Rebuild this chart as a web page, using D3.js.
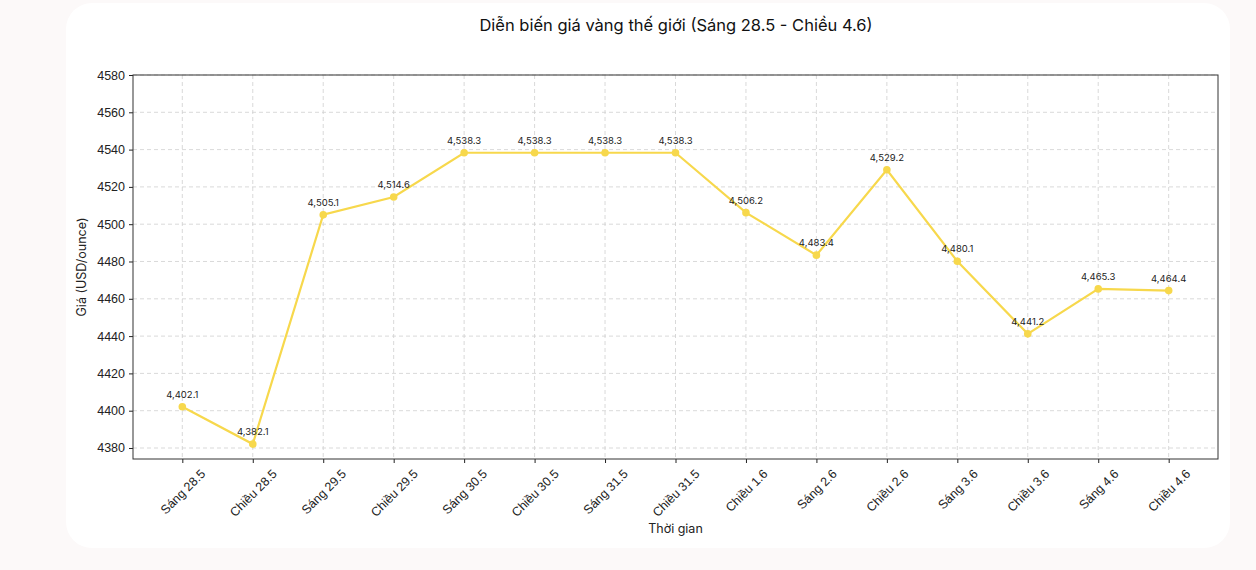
<!DOCTYPE html>
<html>
<head>
<meta charset="UTF-8">
<style>
body { margin: 0; background: #fcf9f9; }
svg { display: block; font-family: Inter, "Open Sans", sans-serif; }
.grid line { stroke: #cfcfcf; stroke-dasharray: 4,3; stroke-width: 0.8; }
.axis path { display: none; }
.axis line { stroke: #222; }
.axis text { fill: #222; font-size: 12.5px; }
.lbl { font-size: 9.5px; fill: #222; }
</style>
</head>
<body>
<svg width="1256" height="570"></svg>
<script src="https://cdn.jsdelivr.net/npm/d3@7"></script>
<script>
// dữ liệu
var labels = ["Sáng 28.5", "Chiều 28.5", "Sáng 29.5", "Chiều 29.5", "Sáng 30.5", "Chiều 30.5",
  "Sáng 31.5", "Chiều 31.5", "Chiều 1.6", "Sáng 2.6", "Chiều 2.6", "Sáng 3.6",
  "Chiều 3.6", "Sáng 4.6", "Chiều 4.6"];
var prices = [4402.1, 4382.1, 4505.1, 4514.6, 4538.3, 4538.3, 4538.3, 4538.3,
  4506.2, 4483.4, 4529.2, 4480.1, 4441.2, 4465.3, 4464.4];
var yTicks = [4380, 4400, 4420, 4440, 4460, 4480, 4500, 4520, 4540, 4560, 4580];

var svg = d3.select("svg"),
    margin = {top: 75, right: 38, bottom: 111, left: 133},
    width = 1256 - margin.left - margin.right,
    height = 570 - margin.top - margin.bottom;

// card
svg.append("rect")
    .attr("x", 66).attr("y", 3)
    .attr("width", 1164).attr("height", 545)
    .attr("rx", 26).attr("fill", "#fff");

svg.append("text")
    .attr("x", 676).attr("y", 31)
    .attr("text-anchor", "middle")
    .style("font-size", "16.5px")
    .attr("fill", "#111")
    .text("Diễn biến giá vàng thế giới (Sáng 28.5 - Chiều 4.6)");

var g = svg.append("g").attr("transform", "translate(" + margin.left + "," + margin.top + ")");

var x = d3.scaleLinear().domain([-0.7, labels.length - 1 + 0.7]).range([0, width]);
var y = d3.scaleLinear().domain([4374.1, 4580]).range([height, 0]);

// grid
g.append("g").attr("class", "grid")
  .selectAll("line").data(yTicks).enter().append("line")
    .attr("x1", 0).attr("x2", width)
    .attr("y1", function(d) { return y(d); }).attr("y2", function(d) { return y(d); });
g.append("g").attr("class", "grid")
  .selectAll("line").data(labels).enter().append("line")
    .attr("y1", 0).attr("y2", height)
    .attr("x1", function(d, i) { return x(i); }).attr("x2", function(d, i) { return x(i); });

g.append("g")
    .attr("class", "axis")
    .call(d3.axisLeft(y).tickValues(yTicks).tickSize(4).tickPadding(4).tickFormat(d3.format("d")));

var xa = g.append("g")
    .attr("class", "axis")
    .attr("transform", "translate(0," + height + ")")
    .call(d3.axisBottom(x).tickValues(d3.range(labels.length)).tickSize(4)
      .tickFormat(function(i) { return labels[i]; }));
// rotated 45°, centred under the tick like matplotlib
xa.selectAll("text")
    .attr("text-anchor", "middle")
    .attr("dy", "0.35em")
    .attr("x", 0).attr("y", 0)
    .attr("transform", function() {
      var w = this.getComputedTextLength(), h = 13;
      var cy = 8 + (w + h) * Math.SQRT1_2 / 2;
      return "translate(0," + cy + ") rotate(-45)";
    });

// frame
g.append("rect")
    .attr("width", width).attr("height", height)
    .attr("fill", "none").attr("stroke", "#333").attr("stroke-width", 1);

var line = d3.line()
    .x(function(d, i) { return x(i); })
    .y(function(d) { return y(d); });

g.append("path")
    .datum(prices)
    .attr("d", line)
    .attr("fill", "none")
    .attr("stroke", "#f7d84c")
    .attr("stroke-width", 2.2);

g.selectAll(".dot").data(prices).enter().append("circle")
    .attr("cx", function(d, i) { return x(i); })
    .attr("cy", function(d) { return y(d); })
    .attr("r", 3.8)
    .attr("fill", "#f7d84c");

g.selectAll(".lbl").data(prices).enter().append("text")
    .attr("class", "lbl")
    .attr("x", function(d, i) { return x(i); })
    .attr("y", function(d) { return y(d) - 9; })
    .attr("text-anchor", "middle")
    .text(function(d) { return d3.format(",.1f")(d); });

svg.append("text")
    .attr("transform", "translate(86," + (margin.top + height / 2) + ") rotate(-90)")
    .attr("text-anchor", "middle")
    .style("font-size", "12.5px")
    .attr("fill", "#222")
    .text("Giá (USD/ounce)");

svg.append("text")
    .attr("x", margin.left + width / 2).attr("y", 533)
    .attr("text-anchor", "middle")
    .style("font-size", "12.5px")
    .attr("fill", "#222")
    .text("Thời gian");
</script>
</body>
</html>
